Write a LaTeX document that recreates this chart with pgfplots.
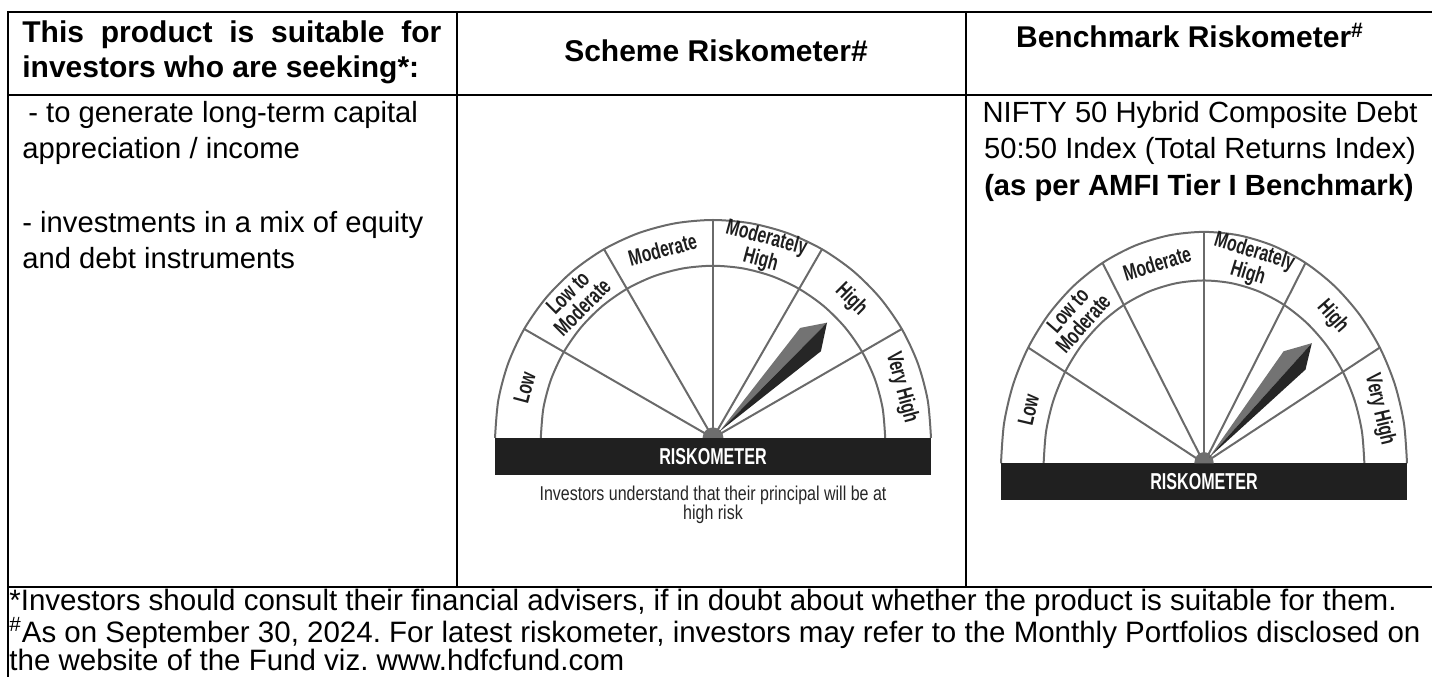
\documentclass[border=0pt]{standalone}
\usepackage{pgfplots}
\pgfplotsset{compat=1.18}
\usepackage{pgfplotstable}
\usepackage{fontspec}
\setmainfont{Liberation Sans}
\newfontfamily\condA[FakeStretch=0.7]{Liberation Sans}
\newfontfamily\condB[FakeStretch=0.8]{Liberation Sans}
\definecolor{gline}{HTML}{6A6A6A}
\definecolor{gbar}{HTML}{202020}
\definecolor{ndark}{HTML}{262626}
\definecolor{nlight}{HTML}{737373}
\definecolor{ghub}{HTML}{6E6E6E}
\definecolor{glabel}{HTML}{1E1E1E}

\pgfplotstableread{
x y
-1 0
-0.9848 0.1736
-0.9397 0.3420
-0.8660 0.5
-0.7660 0.6428
-0.6428 0.7660
-0.5 0.8660
-0.3420 0.9397
-0.1736 0.9848
0 1
0.1736 0.9848
0.3420 0.9397
0.5 0.8660
0.6428 0.7660
0.7660 0.6428
0.8660 0.5
0.9397 0.3420
0.9848 0.1736
1 0
}\outerarc
\pgfplotstableread{
x y
-0.79 0
-0.7780 0.1371
-0.7424 0.2702
-0.6841 0.3950
-0.6051 0.5078
-0.5078 0.6051
-0.3950 0.6841
-0.2702 0.7424
-0.1371 0.7780
0 0.79
0.1371 0.7780
0.2702 0.7424
0.3950 0.6841
0.5078 0.6051
0.6051 0.5078
0.6841 0.3950
0.7424 0.2702
0.7780 0.1371
0.79 0
}\innerarc

\pgfplotsset{
  rule/.style={black, line width=1.25bp, no markers},
  gl/.style={gline, line width=1bp, no markers},
  gauge/.style={hide axis, scale only axis, clip=false, xmin=-1.1, xmax=1.1, ymin=-0.25, ymax=1.1, anchor=south west},
}
\newcommand\hdr{\bfseries\fontsize{15bp}{18bp}\selectfont}
\newcommand\bdy{\fontsize{14.6bp}{18bp}\selectfont}
\newcommand\ftr{\fontsize{14.75bp}{18bp}\selectfont}
\newcommand\glab{\condA\bfseries\fontsize{11.2bp}{10.3bp}\selectfont}

% gauge frame: #1..#6 label rotations, #7 bar bottom
\newcommand\gaugeframe[7]{%
  \addplot[gl] coordinates {(0,0) (-0.8660,0.5)};
  \addplot[gl] coordinates {(0,0) (-0.5,0.8660)};
  \addplot[gl] coordinates {(0,0) (0,1)};
  \addplot[gl] coordinates {(0,0) (0.5,0.8660)};
  \addplot[gl] coordinates {(0,0) (0.8660,0.5)};
  \addplot[gl, smooth] table {\outerarc};
  \addplot[gl, smooth] table {\innerarc};
  \addplot[fill=gbar, draw=none] coordinates {(-1,0) (1,0) (1,#7) (-1,#7)} -- cycle;
  \addplot[fill=ghub, draw=none, smooth] coordinates {(-0.048,0) (-0.042,0.024) (-0.024,0.042) (0,0.048) (0.024,0.042) (0.042,0.024) (0.048,0)} -- cycle;
  \node[font=\glab, text=glabel, rotate=#1, inner sep=0pt] at (axis cs:-0.8645,0.2316) {Low};
  \node[font=\glab, text=glabel, rotate=#2, align=center, inner sep=0pt] at (axis cs:-0.6329,0.6329) {Low to\\Moderate};
  \node[font=\glab, text=glabel, rotate=#3, inner sep=0pt] at (axis cs:-0.2316,0.8645) {Moderate};
  \node[font=\glab, text=glabel, rotate=#4, align=center, inner sep=0pt] at (axis cs:0.2316,0.8645) {Moderately\\High};
  \node[font=\glab, text=glabel, rotate=#5, inner sep=0pt] at (axis cs:0.6329,0.6329) {High};
  \node[font=\glab, text=glabel, rotate=#6, inner sep=0pt] at (axis cs:0.8645,0.2316) {Very High};
  \node[font=\condA\bfseries\fontsize{11.5bp}{12bp}\selectfont, text=white, inner sep=0pt] at (axis cs:0,#7/2) {RISKOMETER};
}

\begin{document}
\frenchspacing
\begin{tikzpicture}
\path[use as bounding box] (0,0) rectangle (716bp,338.5bp);
\begin{axis}[at={(0,0)}, anchor=south west, hide axis, scale only axis,
  width=716bp, height=338.5bp, xmin=0, xmax=1432, ymin=0, ymax=677,
  y dir=reverse, clip=false]
\addplot[rule] coordinates {(7,12) (1432,12)};
\addplot[rule] coordinates {(7,95) (1432,95)};
\addplot[rule] coordinates {(7,587) (1432,587)};
\addplot[rule] coordinates {(8,11) (8,677)};
\addplot[rule] coordinates {(457,12) (457,587)};
\addplot[rule] coordinates {(966,12) (966,587)};
% header
\node[anchor=base west, font=\hdr, inner sep=0pt] at (axis cs:22,43) {\makebox[209.5bp][s]{This product is suitable for}};
\node[anchor=base west, font=\hdr, inner sep=0pt] at (axis cs:22,77) {investors who are seeking*:};
\node[anchor=base, font=\hdr, inner sep=0pt] at (axis cs:716,62) {Scheme Riskometer\#};
\node[anchor=base, font=\hdr, inner sep=0pt] at (axis cs:1190,48) {Benchmark Riskometer\textsuperscript{\#}};
% body col 1
\node[anchor=base west, font=\bdy, inner sep=0pt] at (axis cs:22,122) {\hspace{3bp}- to generate long-term capital};
\node[anchor=base west, font=\bdy, inner sep=0pt] at (axis cs:22,158) {appreciation / income};
\node[anchor=base west, font=\bdy, inner sep=0pt] at (axis cs:22,232) {- investments in a mix of equity};
\node[anchor=base west, font=\bdy, inner sep=0pt] at (axis cs:22,268) {and debt instruments};
% body col 3
\node[anchor=base, font=\bdy, inner sep=0pt] at (axis cs:1200,122) {NIFTY 50 Hybrid Composite Debt};
\node[anchor=base, font=\bdy, inner sep=0pt] at (axis cs:1200,158) {50:50 Index (Total Returns Index)};
\node[anchor=base, font=\bdy\bfseries, inner sep=0pt] at (axis cs:1199,195) {(as per AMFI Tier I Benchmark)};
% caption under scheme gauge
\node[anchor=base, font=\condB\fontsize{10bp}{12bp}\selectfont, text=black!85, inner sep=0pt] at (axis cs:713,500) {Investors understand that their principal will be at};
\node[anchor=base, font=\condB\fontsize{10bp}{12bp}\selectfont, text=black!85, inner sep=0pt] at (axis cs:713,519) {high risk};
% footer
\node[anchor=base west, font=\ftr, inner sep=0pt] at (axis cs:9,610) {*Investors should consult their financial advisers, if in doubt about whether the product is suitable for them.};
\node[anchor=base west, font=\ftr, inner sep=0pt] at (axis cs:9,642) {\textsuperscript{\#}As on September 30, 2024. For latest riskometer, investors may refer to the Monthly Portfolios disclosed on};
\node[anchor=base west, font=\ftr, inner sep=0pt] at (axis cs:9,670) {the website of the Fund viz. www.hdfcfund.com};
\end{axis}

% scheme riskometer
\begin{axis}[gauge, at={(236.6bp,92.25bp)}, width=239.8bp, height=147.15bp]
\gaugeframe{75}{45}{15}{-15}{-45}{-75}{-0.17}
\addplot[fill=nlight, draw=none] coordinates {(0.03,0.03) (0.400,0.505) (0.523,0.529)} -- cycle;
\addplot[fill=ndark, draw=none] coordinates {(0.03,0.03) (0.523,0.529) (0.495,0.398)} -- cycle;
\end{axis}

% benchmark riskometer
\begin{axis}[gauge, at={(490.35bp,77.93bp)}, width=223.3bp, height=156.2bp]
\gaugeframe{76.8}{48.7}{17}{-17}{-48.7}{-76.8}{-0.16}
\addplot[fill=nlight, draw=none] coordinates {(0.025,0.025) (0.392,0.484) (0.531,0.519)} -- cycle;
\addplot[fill=ndark, draw=none] coordinates {(0.025,0.025) (0.531,0.519) (0.500,0.405)} -- cycle;
\end{axis}
\end{tikzpicture}
\end{document}
